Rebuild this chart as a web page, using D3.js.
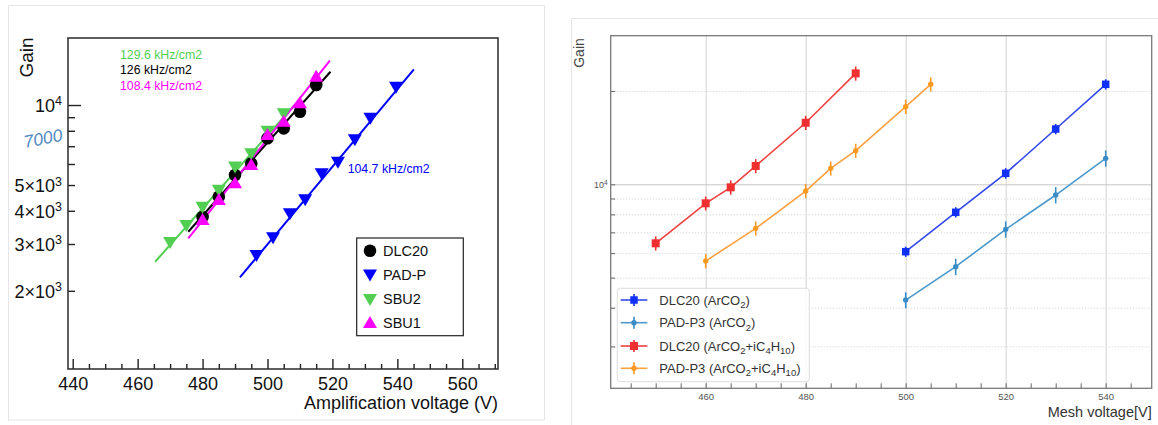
<!DOCTYPE html>
<html><head><meta charset="utf-8">
<script src="https://cdn.jsdelivr.net/npm/d3@7"></script>
<style>body{margin:0;background:#fff}svg{display:block}text{font-family:"Liberation Sans",Arial,Helvetica,sans-serif}</style>
</head><body><svg id="c" width="1158" height="425"></svg>
<script>
// ---------------- LEFT PANEL DATA ----------------
const leftTicksX = [440, 460, 480, 500, 520, 540, 560];
const leftTicksY = [2000, 3000, 4000, 5000, 6000, 7000, 8000, 9000, 10000];
const leftLabelsY = [["2×10","3"], ["3×10","3"], ["4×10","3"], ["5×10","3"], null, null, null, null, ["10","4"]];

const dlcV  = [480, 485, 490, 495, 500, 505, 510, 515];
const dlcG  = [3790, 4518, 5452, 6030, 7500, 8171, 9436, 11890];
const padV  = [496.6, 501.7, 506.9, 511.6, 516.7, 521.7, 526.9, 531.7, 539.6];
const padG  = [2727, 3178, 3913, 4417, 5534, 6117, 7430, 8960, 11720];
const sbu2V = [470, 475, 480, 485, 490, 495, 500, 505];
const sbu2G = [3053, 3535, 4143, 4800, 5870, 6580, 8000, 9306];
const sbu1V = [480, 485, 490, 495, 500, 505, 510, 515];
const sbu1G = [3693, 4393, 5074, 5946, 7710, 8654, 10150, 12780];

// fit lines (end points)
const dlcFitV  = [475.6, 519.4], dlcFitG  = [3337, 13340];
const padFitV  = [491.5, 545.1], padFitG  = [2248, 13620];
const sbu2FitV = [465.4, 508.0], sbu2FitG = [2573, 9900];
const sbu1FitV = [475.6, 519.2], sbu1FitG = [3150, 14680];

const leftLegend = ["DLC20", "PAD-P", "SBU2", "SBU1"];
const rateLabels = ["129.6 kHz/cm2", "126 kHz/cm2", "108.4 kHz/cm2"];
const padRateLabel = "104.7 kHz/cm2";

// ---------------- RIGHT PANEL DATA ----------------
const rightTicksX = [460, 480, 500, 520, 540];
const rightTicksY = [3000, 4000, 5000, 6000, 7000, 8000, 9000, 10000, 20000];

const blueV = [500, 510, 520, 530, 540];
const blueG = [6064, 8124, 10850, 15080, 21020];
const blueE = [230, 310, 420, 580, 800];
const lblueV = [500, 510, 520, 530, 540];
const lblueG = [4233, 5423, 7158, 9236, 12130];
const lblueE = [250, 330, 430, 560, 730];
const redV = [450, 460, 465, 470, 480, 490];
const redG = [6452, 8685, 9779, 11460, 15800, 22800];
const redE = [340, 450, 520, 600, 830, 1200];
const orangeV = [460, 470, 480, 485, 490, 500, 505];
const orangeG = [5656, 7212, 9514, 11260, 12840, 17800, 21020];
const orangeE = [300, 380, 500, 590, 680, 940, 1100];

const rightLegend = [
  [["DLC20 (ArCO",0],["2",1],[")",0]],
  [["PAD-P3 (ArCO",0],["2",1],[")",0]],
  [["DLC20 (ArCO",0],["2",1],["+iC",0],["4",1],["H",0],["10",1],[")",0]],
  [["PAD-P3 (ArCO",0],["2",1],["+iC",0],["4",1],["H",0],["10",1],[")",0]]
];

// ---------------- DRAW ----------------
const svg = d3.select("#c");
const zip = (a, b) => a.map((v, i) => [v, b[i]]);

// panel borders
svg.append("rect").attr("x", 8.5).attr("y", 5.5).attr("width", 536).attr("height", 414.5)
  .attr("fill", "none").attr("stroke", "#e6e6e6");
svg.append("rect").attr("x", 571.5).attr("y", 18.5).attr("width", 620).attr("height", 430)
  .attr("fill", "none").attr("stroke", "#e6e6e6");

// ===== LEFT =====
const L = {l: 68, r: 498, t: 38, b: 369};
const xL = d3.scaleLinear().domain([438.55, 571]).range([L.l, L.r]);
const yL = d3.scaleLog().domain([1016, 17870]).range([L.b, L.t]);
const gL = svg.append("g");

// x axis
const gxL = gL.append("g").attr("transform", `translate(0,${L.b})`)
  .call(d3.axisBottom(xL).tickValues(leftTicksX).tickSize(-10).tickPadding(8).tickFormat(d3.format("d")));
const gxLm = gL.append("g").attr("transform", `translate(0,${L.b})`)
  .call(d3.axisBottom(xL).tickValues(d3.range(445, 571, 5).filter(v => v % 20 !== 0)).tickSize(-5).tickFormat(""));
[gxL, gxLm].forEach(g => { g.select(".domain").remove(); g.selectAll("line").attr("stroke", "#222").attr("stroke-width", 1.4); });
gxL.selectAll("text").attr("font-size", 18).attr("fill", "#111").style("font-family", '"Liberation Sans",Arial');

// y axis
const gyL = gL.append("g").attr("transform", `translate(${L.l},0)`)
  .call(d3.axisLeft(yL).tickValues(leftTicksY).tickSize(-7).tickPadding(6).tickFormat(() => ""));
gyL.select(".domain").remove();
gyL.selectAll("line").attr("stroke", "#222").attr("stroke-width", 1.4);
gyL.selectAll(".tick line").filter(d => d === 10000).attr("x2", 13);
gyL.selectAll(".tick text").each(function (d) {
  const lab = leftLabelsY[leftTicksY.indexOf(d)];
  const t = d3.select(this).attr("font-size", 18).attr("fill", "#111").attr("dy", "0.38em")
    .style("font-family", '"Liberation Sans",Arial');
  if (!lab) return;
  t.append("tspan").text(lab[0]);
  t.append("tspan").attr("dy", "-0.55em").attr("font-size", 12.5).text(lab[1]);
});

// frame
gL.append("rect").attr("x", L.l).attr("y", L.t).attr("width", L.r - L.l).attr("height", L.b - L.t)
  .attr("fill", "none").attr("stroke", "#2a2a2a").attr("stroke-width", 1.5);

// titles
gL.append("text").attr("transform", "translate(33,57.5) rotate(-90)").attr("text-anchor", "middle")
  .attr("font-size", 19).attr("fill", "#111").text("Gain");
gL.append("text").attr("x", L.r).attr("y", 409).attr("text-anchor", "end")
  .attr("font-size", 18).attr("fill", "#111").text("Amplification voltage (V)");
gL.append("text").attr("transform", "translate(25,148) rotate(-11)")
  .attr("font-size", 17.5).attr("font-style", "italic").attr("fill", "#5289c2")
  .style("font-family", '"Liberation Sans",Arial').text("7000");

const lineL = d3.line().x(d => xL(d[0])).y(d => yL(d[1]));
const colGreen = "#52cf52", colMag = "#ff00ff", colBlue = "#0000ff", colBlack = "#000";
const triDown = "M0,7L-7,-5L7,-5Z", triUp = "M0,-7L-7,5L7,5Z";

// fit lines
[[dlcFitV, dlcFitG, colBlack], [padFitV, padFitG, colBlue], [sbu2FitV, sbu2FitG, colGreen], [sbu1FitV, sbu1FitG, colMag]]
  .forEach(([v, g, c]) => gL.append("path").datum(zip(v, g)).attr("d", lineL)
    .attr("fill", "none").attr("stroke", c).attr("stroke-width", 2));

// markers
gL.append("g").selectAll("circle").data(zip(dlcV, dlcG)).join("circle")
  .attr("cx", d => xL(d[0])).attr("cy", d => yL(d[1])).attr("r", 6.3).attr("fill", colBlack);
gL.append("g").selectAll("path").data(zip(padV, padG)).join("path")
  .attr("transform", d => `translate(${xL(d[0])},${yL(d[1])})`).attr("d", triDown).attr("fill", colBlue);
gL.append("g").selectAll("path").data(zip(sbu2V, sbu2G)).join("path")
  .attr("transform", d => `translate(${xL(d[0])},${yL(d[1])})`).attr("d", triDown).attr("fill", colGreen);
gL.append("g").selectAll("path").data(zip(sbu1V, sbu1G)).join("path")
  .attr("transform", d => `translate(${xL(d[0])},${yL(d[1])})`).attr("d", triUp).attr("fill", colMag);

// rate annotations
const rateCols = [colGreen, "#000", colMag];
rateLabels.forEach((s, i) => gL.append("text").attr("x", 120).attr("y", 58.5 + i * 15.5)
  .attr("font-size", 12.3).attr("fill", rateCols[i]).text(s));
gL.append("text").attr("x", 347.7).attr("y", 172.5).attr("font-size", 12.3).attr("fill", colBlue).text(padRateLabel);

// legend
const lg = gL.append("g");
lg.append("rect").attr("x", 356.7).attr("y", 238).attr("width", 106.6).attr("height", 97.7)
  .attr("fill", "#fff").attr("stroke", "#222").attr("stroke-width", 1.2);
const legY = [250.7, 274.5, 299, 323];
const legSym = [null, [triDown, colBlue], [triDown, colGreen], [triUp, colMag]];
leftLegend.forEach((s, i) => {
  if (i === 0) lg.append("circle").attr("cx", 370).attr("cy", legY[i]).attr("r", 6.3).attr("fill", "#000");
  else lg.append("path").attr("transform", `translate(370,${legY[i]})`).attr("d", legSym[i][0]).attr("fill", legSym[i][1]);
  lg.append("text").attr("x", 383).attr("y", legY[i]).attr("dy", "0.36em").attr("font-size", 14.5).attr("fill", "#111").text(s);
});

// ===== RIGHT =====
const R = {l: 610.7, r: 1151.7, t: 35.7, b: 388.3};
const xR = d3.scaleLinear().domain([441, 549.2]).range([R.l, R.r]);
const yR = d3.scaleLog().domain([2198, 30160]).range([R.b, R.t]);
const gR = svg.append("g");

// grid
const gridX = gR.append("g").attr("transform", `translate(0,${R.b})`)
  .call(d3.axisBottom(xR).tickValues(rightTicksX).tickSize(-(R.b - R.t)).tickFormat(""));
gridX.select(".domain").remove();
gridX.selectAll("line").attr("stroke", "#d2d2d2").attr("stroke-width", 1);
const gridY = gR.append("g").attr("transform", `translate(${R.l},0)`)
  .call(d3.axisLeft(yR).tickValues(rightTicksY).tickSize(-(R.r - R.l)).tickFormat(""));
gridY.select(".domain").remove();
gridY.selectAll(".tick line").attr("stroke", d => d === 10000 ? "#c6c6c6" : "#dcdcdc")
  .attr("stroke-dasharray", d => d === 10000 ? null : "1.5,1.5").attr("stroke-width", 1);

// ticks
const txR = gR.append("g").attr("transform", `translate(0,${R.b})`)
  .call(d3.axisBottom(xR).tickValues(d3.range(445, 549, 5)).tickSize(-5).tickFormat(""));
txR.select(".domain").remove();
txR.selectAll("line").attr("stroke", "#666");
const lxR = gR.append("g").attr("transform", `translate(0,${R.b})`)
  .call(d3.axisBottom(xR).tickValues(rightTicksX).tickSize(0).tickPadding(5).tickFormat(d3.format("d")));
lxR.select(".domain").remove();
lxR.selectAll("text").attr("font-size", 9.5).attr("fill", "#555");
const tyR = gR.append("g").attr("transform", `translate(${R.l},0)`)
  .call(d3.axisLeft(yR).tickValues(rightTicksY).tickSize(-4.5).tickPadding(3).tickFormat(() => ""));
tyR.select(".domain").remove();
tyR.selectAll("line").attr("stroke", "#666");
tyR.selectAll(".tick text").each(function (d) {
  if (d !== 10000) return;
  const t = d3.select(this).attr("font-size", 9).attr("fill", "#555").attr("dy", "0.38em");
  t.append("tspan").text("10");
  t.append("tspan").attr("dy", "-0.5em").attr("font-size", 6.5).text("4");
});

gR.append("rect").attr("x", R.l).attr("y", R.t).attr("width", R.r - R.l).attr("height", R.b - R.t)
  .attr("fill", "none").attr("stroke", "#7a7a7a").attr("stroke-width", 1.3);

gR.append("text").attr("transform", "translate(584,53) rotate(-90)").attr("text-anchor", "middle")
  .attr("font-size", 14).attr("fill", "#444").text("Gain");
gR.append("text").attr("x", R.r).attr("y", 417).attr("text-anchor", "end")
  .attr("font-size", 14.5).attr("fill", "#333").text("Mesh voltage[V]");

const lineR = d3.line().x(d => xR(d[0])).y(d => yR(d[1]));
const seriesR = [
  {v: redV, g: redG, e: redE, c: "#f03030", line: "#ee4040", m: "sq", s: 8},
  {v: orangeV, g: orangeG, e: orangeE, c: "#fb9a22", line: "#fba040", m: "dot", s: 2.7},
  {v: blueV, g: blueG, e: blueE, c: "#1030f5", line: "#3348ea", m: "sq", s: 7.5},
  {v: lblueV, g: lblueG, e: lblueE, c: "#3a8cc6", line: "#4c98cc", m: "dot", s: 2.7}
];
seriesR.forEach(S => {
  const pts = S.v.map((v, i) => ({v, g: S.g[i], e: S.e[i]}));
  const g = gR.append("g");
  g.append("path").datum(pts.map(p => [p.v, p.g])).attr("d", lineR)
    .attr("fill", "none").attr("stroke", S.line).attr("stroke-width", 1.6);
  g.selectAll("line.err").data(pts).join("line").attr("class", "err")
    .attr("x1", d => xR(d.v)).attr("x2", d => xR(d.v))
    .attr("y1", d => yR(d.g - d.e)).attr("y2", d => yR(d.g + d.e))
    .attr("stroke", S.c).attr("stroke-width", 1.6);
  if (S.m === "sq") {
    g.selectAll("rect").data(pts).join("rect")
      .attr("x", d => xR(d.v) - S.s / 2).attr("y", d => yR(d.g) - S.s / 2)
      .attr("width", S.s).attr("height", S.s).attr("fill", S.c);
  } else {
    g.selectAll("circle").data(pts).join("circle")
      .attr("cx", d => xR(d.v)).attr("cy", d => yR(d.g)).attr("r", S.s).attr("fill", S.c);
  }
});

// right legend
const rl = gR.append("g");
rl.append("rect").attr("x", 617.3).attr("y", 288.3).attr("width", 192).attr("height", 93.4).attr("rx", 3)
  .attr("fill", "#fff").attr("fill-opacity", 0.85).attr("stroke", "#dddddd");
const rlY = [300, 322.7, 346, 368.3];
const rlS = [seriesR[2], seriesR[3], seriesR[0], seriesR[1]];
rightLegend.forEach((segs, i) => {
  const S = rlS[i], y = rlY[i];
  rl.append("line").attr("x1", 620.7).attr("x2", 647.3).attr("y1", y).attr("y2", y)
    .attr("stroke", S.line).attr("stroke-width", 1.6);
  rl.append("line").attr("x1", 634).attr("x2", 634).attr("y1", y - 6).attr("y2", y + 6)
    .attr("stroke", S.c).attr("stroke-width", 1.6);
  if (S.m === "sq") rl.append("rect").attr("x", 634 - S.s / 2).attr("y", y - S.s / 2).attr("width", S.s).attr("height", S.s).attr("fill", S.c);
  else rl.append("circle").attr("cx", 634).attr("cy", y).attr("r", S.s).attr("fill", S.c);
  const t = rl.append("text").attr("x", 659.3).attr("y", y + 4.6).attr("font-size", 13).attr("fill", "#333");
  let off = 0;
  segs.forEach(([s, sub]) => {
    const target = sub ? 3.5 : 0;
    t.append("tspan").attr("dy", target - off).attr("font-size", sub ? 9.5 : 13).text(s);
    off = target;
  });
});
</script>
</body></html>
